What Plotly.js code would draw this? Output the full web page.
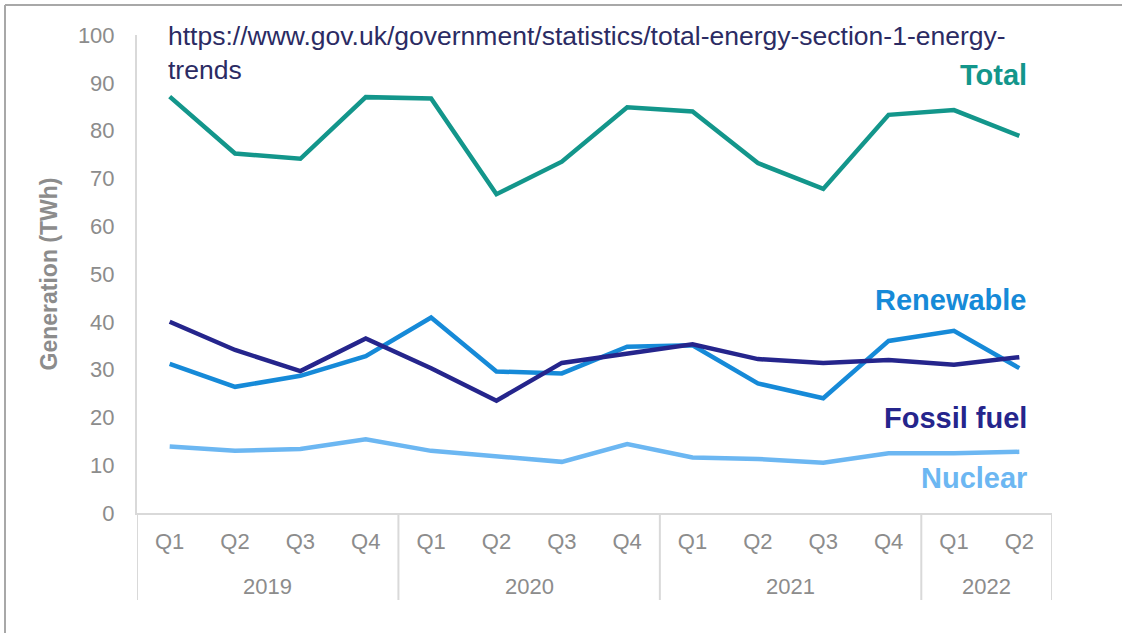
<!DOCTYPE html>
<html>
<head>
<meta charset="utf-8">
<script src="https://cdn.plot.ly/plotly-3.0.1.min.js"></script>
<style>html,body{margin:0;padding:0;background:#fff;}#chart{width:1122px;height:633px;}</style>
</head>
<body>
<div id="chart"></div>
<script>
var years = ["2019","2019","2019","2019","2020","2020","2020","2020","2021","2021","2021","2021","2022","2022"];
var quarters = ["Q1","Q2","Q3","Q4","Q1","Q2","Q3","Q4","Q1","Q2","Q3","Q4","Q1","Q2"];
var total = [87.1, 75.2, 74.1, 87.0, 86.7, 66.7, 73.5, 84.9, 84.0, 73.2, 67.8, 83.3, 84.3, 78.9];
var renewable = [31.2, 26.4, 28.7, 32.8, 40.9, 29.6, 29.2, 34.8, 35.1, 27.1, 24.0, 36.0, 38.1, 30.3];
var fossil = [40.0, 34.1, 29.7, 36.5, 30.3, 23.5, 31.4, 33.4, 35.3, 32.2, 31.4, 32.0, 31.0, 32.6];
var nuclear = [13.9, 13.0, 13.4, 15.4, 13.0, 11.8, 10.7, 14.4, 11.6, 11.3, 10.5, 12.5, 12.5, 12.8];
var seriesNames = ["Total", "Renewable", "Fossil fuel", "Nuclear"];
var labelY = [91.6, 44.6, 19.9, 7.3];
var yTicks = [0,10,20,30,40,50,60,70,80,90,100];

var FONT = 'Liberation Sans, Arial, sans-serif';
var colors = ["#13968b", "#168ad8", "#25258c", "#6cb7f2"];
var seriesData = [total, renewable, fossil, nuclear];
var cats = years.map(function(y, i){ return y + ' ' + quarters[i]; });

var traces = seriesData.map(function(d, i){
  return {type:'scatter', mode:'lines', x:cats, y:d, name:seriesNames[i],
          line:{color:colors[i], width:4.5}, hoverinfo:'skip'};
});
traces = [traces[3], traces[1], traces[2], traces[0]];

var annotations = seriesNames.map(function(n, i){
  return {text:'<b>'+n+'</b>', xref:'paper', yref:'y', x:(1029-137)/915, y:labelY[i],
          xanchor:'right', yanchor:'middle', showarrow:false,
          font:{family:FONT, size:29, color:colors[i]}};
});

// year group labels and dividers, derived from the years array
var groups = [];
years.forEach(function(y, i){
  if (!groups.length || groups[groups.length-1].year !== y) groups.push({year:y, first:i, last:i});
  else groups[groups.length-1].last = i;
});
var dividerColor = '#d9d9d9';
var shapes = [];
groups.forEach(function(g, k){
  annotations.push({text:g.year, xref:'x', yref:'paper', x:(g.first+g.last)/2, y:(513-586)/478,
                    xanchor:'center', yanchor:'middle', showarrow:false,
                    font:{family:FONT, size:22, color:'#8c8c8c'}});
  shapes.push({type:'line', xref:'x', yref:'paper', x0:g.first-0.5, x1:g.first-0.5, y0:0, y1:(513-600)/478,
               line:{color:dividerColor, width:2}});
  if (k === groups.length-1)
    shapes.push({type:'line', xref:'x', yref:'paper', x0:g.last+0.5, x1:g.last+0.5, y0:0, y1:(513-600)/478,
                 line:{color:dividerColor, width:2}});
});
// outer frame
shapes.push({type:'line', xref:'paper', yref:'paper', x0:(5-137)/915, x1:1.2, y0:(513-5)/478, y1:(513-5)/478,
             line:{color:'#a8a8a8', width:2}});
shapes.push({type:'line', xref:'paper', yref:'paper', x0:(5-137)/915, x1:(5-137)/915, y0:(513-5)/478, y1:-0.4,
             line:{color:'#a8a8a8', width:2}});

var layout = {
  width:1122, height:633,
  margin:{l:137, r:70, t:35, b:120},
  paper_bgcolor:'#ffffff', plot_bgcolor:'#ffffff',
  showlegend:false,
  font:{family:FONT, color:'#8c8c8c'},
  title:{text:'https://www.gov.uk/government/statistics/total-energy-section-1-energy-<br>trends',
         x:168/1122, xanchor:'left', xref:'container', y:1-45/633, yanchor:'top', yref:'container',
         font:{family:FONT, size:26.5, color:'#2b2b63'}},
  xaxis:{type:'category', range:[-0.5, cats.length-0.5], tickvals:cats, ticktext:quarters,
         showgrid:false, zeroline:false, showline:true, linecolor:dividerColor, linewidth:2,
         ticks:'', ticklabelstandoff:8, tickfont:{family:FONT, size:22, color:'#8c8c8c'}},
  yaxis:{range:[0,100], tickvals:yTicks, ticktext:yTicks.map(String),
         showgrid:false, zeroline:false, showline:true, linecolor:dividerColor, linewidth:2,
         ticks:'', ticklabelstandoff:16, tickfont:{family:FONT, size:22, color:'#8c8c8c'},
         title:{text:'<b>Generation (TWh)</b>', font:{family:FONT, size:23, color:'#8c8c8c'}, standoff:14}},
  annotations:annotations,
  shapes:shapes
};
Plotly.newPlot('chart', traces, layout, {displayModeBar:false, staticPlot:true});
</script>
</body>
</html>
